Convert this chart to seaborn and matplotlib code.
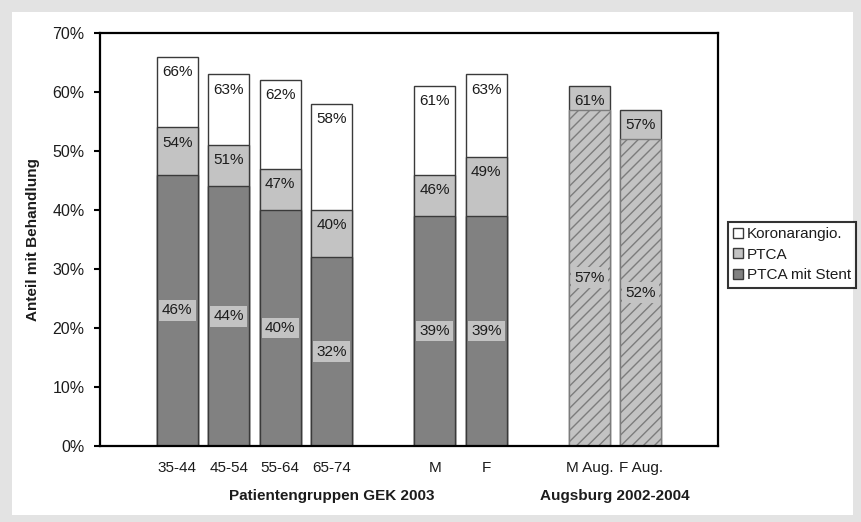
import matplotlib
matplotlib.use("Agg")
import matplotlib.pyplot as plt
import matplotlib.transforms as mtransforms
from matplotlib.patches import Patch, Rectangle
import pandas as pd
import seaborn as sns

# --- data -------------------------------------------------------------
groups_gek = ["35-44", "45-54", "55-64", "65-74", "M", "F"]
koronar_gek = [66, 63, 62, 58, 61, 63]   # Koronarangiographie (total)
ptca_gek = [54, 51, 47, 40, 46, 49]      # PTCA (cumulative)
stent_gek = [46, 44, 40, 32, 39, 39]     # PTCA mit Stent

groups_aug = ["M Aug.", "F Aug."]
ptca_aug = [61, 57]
stent_aug = [57, 52]

y_ticks = [0, 10, 20, 30, 40, 50, 60, 70]
legend_labels = ["Koronarangio.", "PTCA", "PTCA mit Stent"]
group_titles = ["Patientengruppen GEK 2003", "Augsburg 2002-2004"]

# category slots on the x axis (blank slots separate the blocks)
slot_order = ["35-44", "45-54", "55-64", "65-74", " ", "M", "F", "  ", "M Aug.", "F Aug."]

# --- style ------------------------------------------------------------
sns.set_theme(style="white")
plt.rcParams["font.family"] = ["Liberation Sans", "DejaVu Sans"]
plt.rcParams["hatch.linewidth"] = 1.0

C_WHITE = "#ffffff"
C_LIGHT = "#c3c3c3"
C_DARK = "#818181"
C_EDGE = "#3a3a3a"
C_TEXT = "#1c1c1c"
FS = 11

df_gek = pd.DataFrame({"gruppe": groups_gek, "koronar": koronar_gek,
                       "ptca": ptca_gek, "stent": stent_gek})
df_aug = pd.DataFrame({"gruppe": groups_aug, "ptca": ptca_aug, "stent": stent_aug})

fig = plt.figure(figsize=(8.61, 5.22), dpi=100, facecolor="#e3e3e3")
fig.patches.append(Rectangle((12 / 861, 7 / 522), (853 - 12) / 861, (510 - 7) / 522,
                             transform=fig.transFigure, facecolor="white",
                             edgecolor="none", zorder=-10))

ax = fig.add_axes([100 / 861, 1 - 446 / 522, 618 / 861, 413 / 522])
ax.set_facecolor("white")

common = dict(order=slot_order, width=0.8, saturation=1, errorbar=None,
              linewidth=1, ax=ax)

# stacked bars: draw the cumulative totals back to front
sns.barplot(data=df_gek, x="gruppe", y="koronar", color=C_WHITE, edgecolor=C_EDGE, **common)
sns.barplot(data=df_gek, x="gruppe", y="ptca", color=C_LIGHT, edgecolor=C_EDGE, **common)
sns.barplot(data=df_gek, x="gruppe", y="stent", color=C_DARK, edgecolor=C_EDGE, **common)
sns.barplot(data=df_aug, x="gruppe", y="ptca", color=C_LIGHT, edgecolor=C_EDGE, **common)
sns.barplot(data=df_aug, x="gruppe", y="stent", color=C_LIGHT, edgecolor="#7c7c7c",
            hatch="///", **common)

ax.set_xlim(-1.5, 10.5)
ax.set_ylim(0, 70)

# --- value labels -----------------------------------------------------
def top_label(name, value):
    ax.annotate(f"{value}%", xy=(slot_order.index(name), value), xytext=(0, -11),
                textcoords="offset points", ha="center", va="center",
                fontsize=FS, color=C_TEXT, zorder=5)


def stent_label(name, value):
    ax.text(slot_order.index(name), value / 2, f"{value}%", ha="center", va="center",
            fontsize=FS, color=C_TEXT, zorder=5,
            bbox=dict(boxstyle="square,pad=0.22", facecolor=C_LIGHT, edgecolor="none"))


for g, k, p, s in zip(groups_gek, koronar_gek, ptca_gek, stent_gek):
    top_label(g, k)
    top_label(g, p)
    stent_label(g, s)
for g, p, s in zip(groups_aug, ptca_aug, stent_aug):
    top_label(g, p)
    stent_label(g, s)

# --- axes -------------------------------------------------------------
ax.set_yticks(y_ticks)
ax.set_yticklabels([f"{t}%" for t in y_ticks], fontsize=11.5, color=C_TEXT)
ax.tick_params(axis="y", left=True, length=4, width=1.5, color="black",
               direction="out", pad=7)

labeled = groups_gek + groups_aug
ax.set_xticks([slot_order.index(g) for g in labeled])
ax.set_xticklabels(labeled, fontsize=FS, color=C_TEXT)
ax.tick_params(axis="x", bottom=False, length=0, pad=11)
ax.set_xlabel("")

ax.set_ylabel("Anteil mit Behandlung", fontsize=FS, fontweight="bold", color=C_TEXT)
ax.yaxis.set_label_coords(-0.097, 0.5)

for sp in ax.spines.values():
    sp.set_visible(True)
    sp.set_color("black")
    sp.set_linewidth(1.6)

# group titles below the tick labels
trans = mtransforms.blended_transform_factory(ax.transData, fig.transFigure)
gek_center = (slot_order.index("35-44") + slot_order.index("F")) / 2
aug_center = (slot_order.index("M Aug.") + slot_order.index("F Aug.")) / 2
for xc, title in zip([gek_center, aug_center], group_titles):
    ax.text(xc, 1 - 496 / 522, title, transform=trans, ha="center", va="center",
            fontsize=FS, fontweight="bold", color=C_TEXT)

# --- legend -----------------------------------------------------------
handles = [Patch(facecolor=c, edgecolor=C_EDGE, linewidth=1)
           for c in (C_WHITE, C_LIGHT, C_DARK)]
leg = fig.legend(handles, legend_labels, loc="upper left",
                 bbox_to_anchor=(728 / 861, 1 - 222 / 522),
                 bbox_transform=fig.transFigure, frameon=True, fancybox=False,
                 fontsize=FS, handlelength=0.62, handleheight=0.62,
                 handletextpad=0.25, borderpad=0.35, labelspacing=0.42,
                 borderaxespad=0)
leg.get_frame().set_edgecolor("black")
leg.get_frame().set_linewidth(1.5)
for t in leg.get_texts():
    t.set_color(C_TEXT)

fig.savefig("out.png", dpi=100, facecolor=fig.get_facecolor())
